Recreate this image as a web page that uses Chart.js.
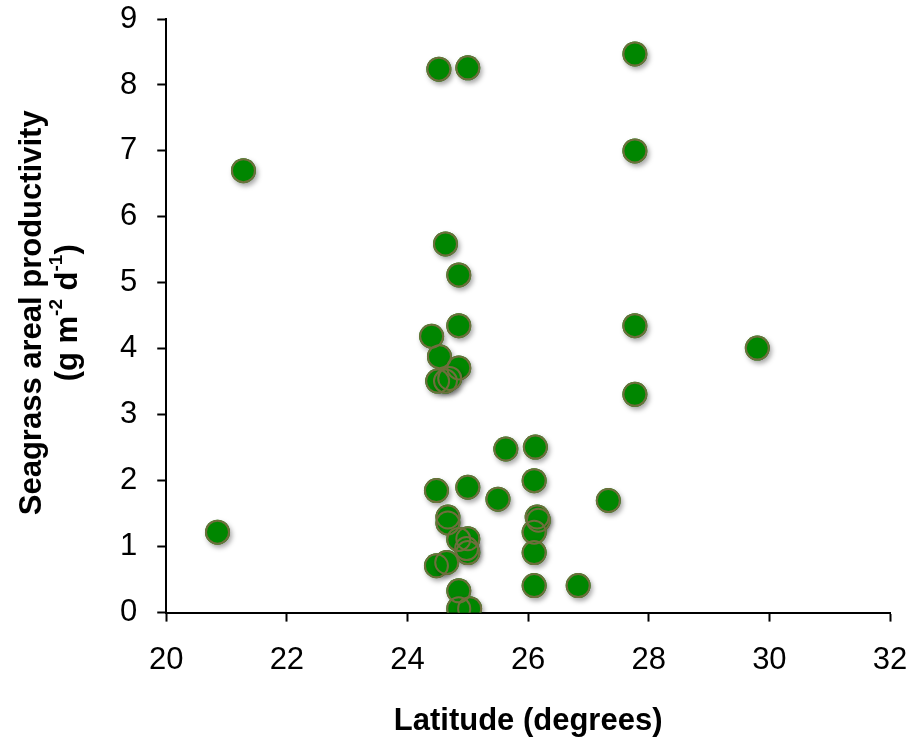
<!DOCTYPE html>
<html>
<head>
<meta charset="utf-8">
<script src="https://cdn.jsdelivr.net/npm/chart.js@4/dist/chart.umd.min.js"></script>
<style>
  html, body { margin: 0; padding: 0; background: #fff; }
  #wrap { width: 911px; height: 737px; }
</style>
</head>
<body>
<div id="wrap"><canvas id="scatterChart"></canvas></div>
<script>
// latitude (degrees) and areal productivity (g m-2 d-1) per site
const latitude = [
  21.28, 20.85, 24.52, 25.0, 27.77, 27.77, 24.63, 24.85, 24.85, 24.4,
  24.53, 24.85, 24.5, 24.63, 24.7, 27.77, 29.8, 27.77, 25.63, 26.12,
  26.1, 24.48, 25.0, 25.5, 27.33, 24.67, 24.67, 24.85, 25.0, 24.98,
  25.0, 24.48, 24.65, 24.85, 24.85, 25.03, 26.15, 26.17, 26.1, 26.1,
  26.1, 26.83
];
const productivity = [
  6.70, 1.22, 8.24, 8.26, 8.47, 7.00, 5.59, 5.12, 4.35, 4.19,
  3.88, 3.71, 3.51, 3.51, 3.55, 4.35, 4.01, 3.31, 2.48, 2.51,
  2.00, 1.85, 1.90, 1.72, 1.70, 1.45, 1.36, 1.11, 1.12, 0.97,
  0.91, 0.71, 0.76, 0.33, 0.06, 0.06, 1.45, 1.40, 1.22, 0.91,
  0.41, 0.41
];
const xTicks = [20, 22, 24, 26, 28, 30, 32];
const yTicks = [0, 1, 2, 3, 4, 5, 6, 7, 8, 9];

const points = latitude.map((x, i) => ({ x: x, y: productivity[i] }));

const fillGreen = 'rgb(0,134,0)';
const rimOlive = 'rgb(110,110,60)';
const fontFamily = '"Liberation Sans", Arial, sans-serif';

// soft drop shadow under the filled markers
const markerShadow = {
  id: 'markerShadow',
  beforeDatasetDraw(chart, args) {
    if (args.index !== 0) return;
    const ctx = chart.ctx;
    ctx.save();
    ctx.shadowColor = 'rgba(0,0,0,0.35)';
    ctx.shadowBlur = 5;
    ctx.shadowOffsetX = 2;
    ctx.shadowOffsetY = 3;
  },
  afterDatasetDraw(chart, args) {
    if (args.index !== 0) return;
    chart.ctx.restore();
  }
};

// rotated two-line y title with superscript units
const yTitle = {
  id: 'yTitle',
  afterDraw(chart) {
    const ctx = chart.ctx;
    const area = chart.chartArea;
    const cy = (area.top + area.bottom) / 2 - 3;
    const big = 'bold 31px ' + fontFamily;
    const small = 'bold 19px ' + fontFamily;
    ctx.save();
    ctx.fillStyle = '#000';
    ctx.textBaseline = 'middle';
    ctx.textAlign = 'center';

    ctx.translate(32, cy);
    ctx.rotate(-Math.PI / 2);
    ctx.font = big;
    ctx.fillText('Seagrass areal productivity', 0, 0);

    // second line: (g m-2 d-1) with raised exponents
    const parts = [
      ['(g m', big, 0], ['-2', small, -11], [' d', big, 0], ['-1', small, -11], [')', big, 0]
    ];
    let total = 0;
    parts.forEach(p => { ctx.font = p[1]; total += ctx.measureText(p[0]).width; });
    let x = -total / 2;
    ctx.textAlign = 'left';
    parts.forEach(p => {
      ctx.font = p[1];
      ctx.fillText(p[0], x, 36 + p[2]);
      x += ctx.measureText(p[0]).width;
    });
    ctx.restore();
  }
};

const tickFont = { family: fontFamily, size: 31 };

// let the layout padding alone decide where the plot area sits
const noEdgePadding = scale => {
  scale.paddingTop = 0;
  scale.paddingBottom = 0;
  scale.paddingLeft = 0;
  scale.paddingRight = 0;
};

new Chart(document.getElementById('scatterChart'), {
  type: 'scatter',
  data: {
    datasets: [
      {
        data: points,
        backgroundColor: fillGreen,
        borderColor: 'rgba(0,0,0,0)',
        borderWidth: 0,
        pointRadius: 12.5,
        order: 2
      },
      {
        data: points,
        backgroundColor: 'rgba(0,0,0,0)',
        borderColor: rimOlive,
        borderWidth: 2,
        pointRadius: 11.5,
        order: 1
      }
    ]
  },
  options: {
    responsive: true,
    maintainAspectRatio: false,
    animation: false,
    events: [],
    layout: { padding: { left: 100, right: 21, top: 19, bottom: -3 } },
    plugins: {
      legend: { display: false },
      tooltip: { enabled: false }
    },
    scales: {
      x: {
        type: 'linear',
        min: xTicks[0],
        max: xTicks[xTicks.length - 1],
        afterBuildTicks: axis => { axis.ticks = xTicks.map(v => ({ value: v })); },
        afterFit: noEdgePadding,
        grid: { drawOnChartArea: false, tickLength: 9, tickColor: '#000', tickWidth: 2 },
        border: { color: '#000', width: 2 },
        ticks: { color: '#000', font: tickFont, padding: 20, maxRotation: 0 },
        title: {
          display: true,
          text: 'Latitude (degrees)',
          color: '#000',
          font: { family: fontFamily, size: 31, weight: 'bold' },
          padding: { top: 4, bottom: 0 }
        }
      },
      y: {
        type: 'linear',
        min: yTicks[0],
        max: yTicks[yTicks.length - 1],
        afterBuildTicks: axis => { axis.ticks = yTicks.map(v => ({ value: v })); },
        afterFit: noEdgePadding,
        grid: { drawOnChartArea: false, tickLength: 9, tickColor: '#000', tickWidth: 2 },
        border: { color: '#000', width: 2 },
        ticks: { color: '#000', font: tickFont, padding: 20 }
      }
    }
  },
  plugins: [markerShadow, yTitle]
});
</script>
</body>
</html>
